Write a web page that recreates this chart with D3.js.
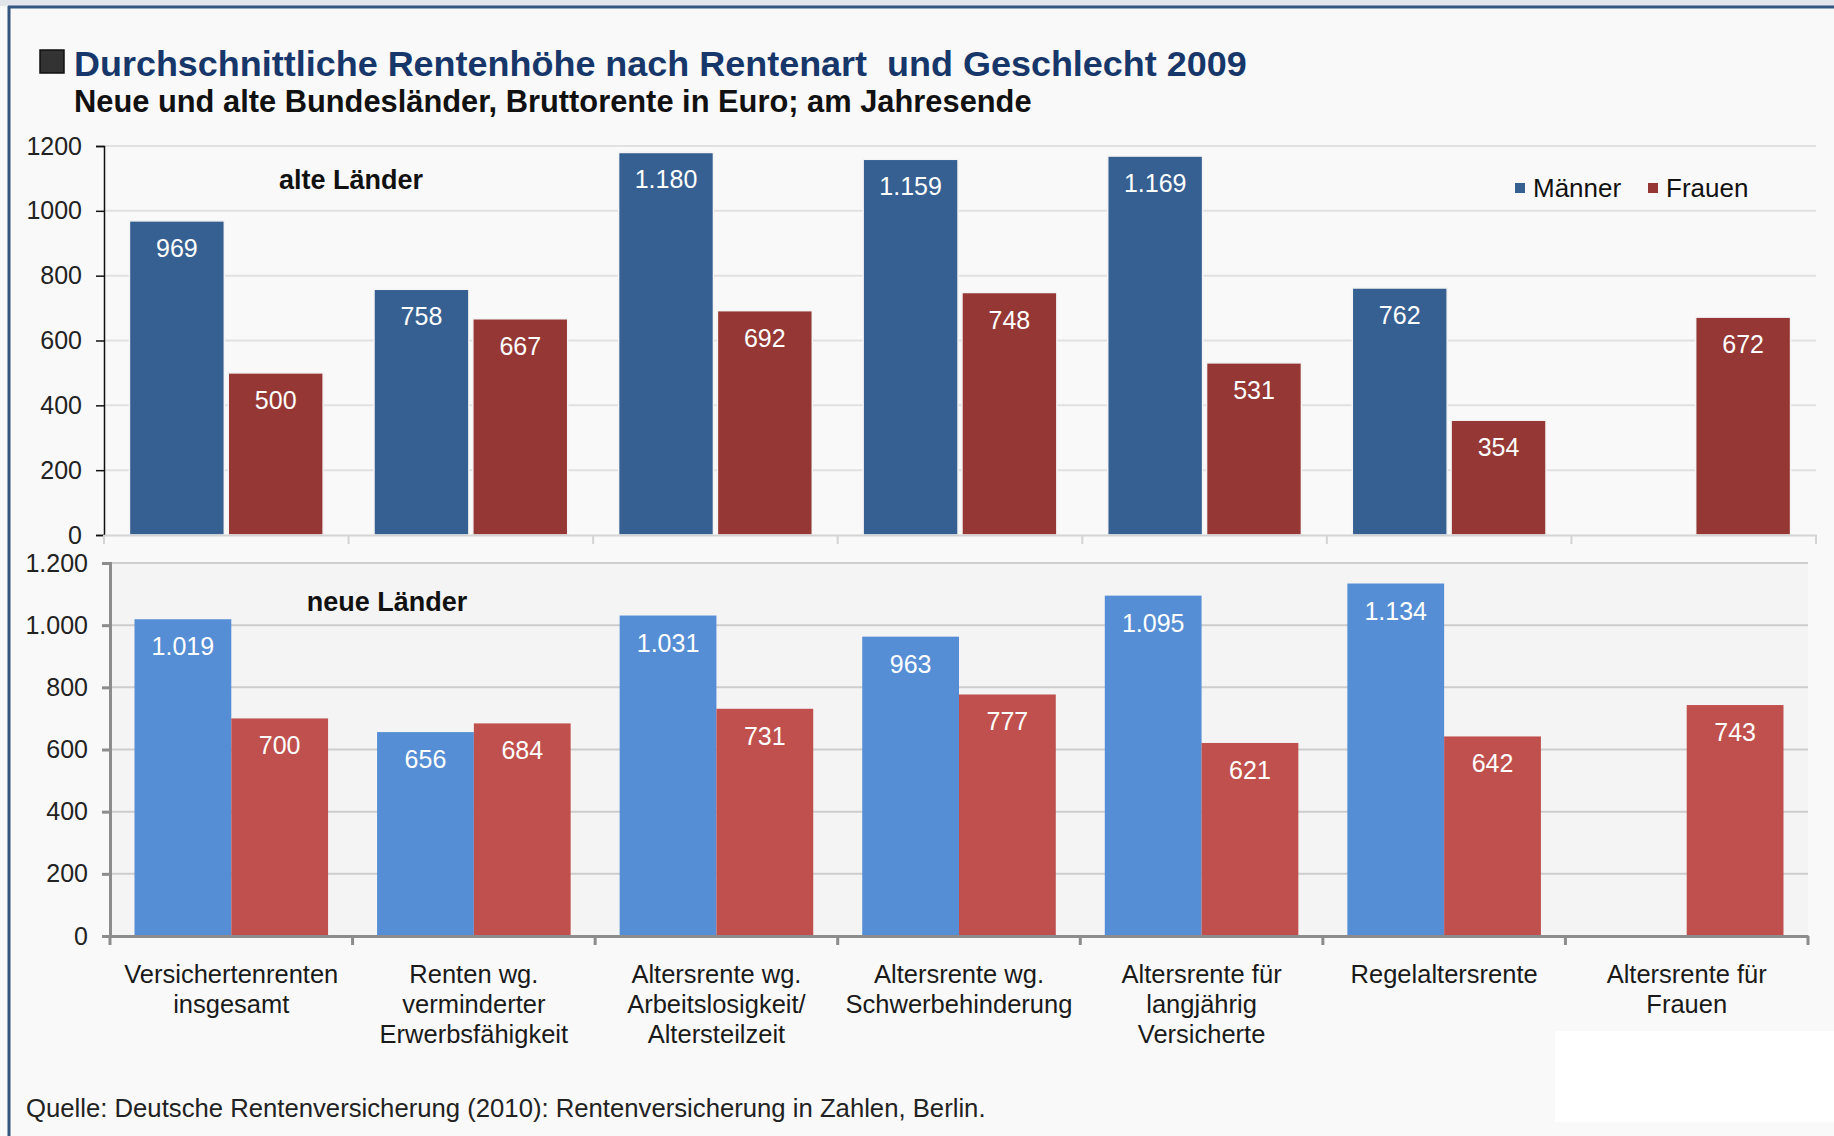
<!DOCTYPE html>
<html>
<head>
<meta charset="utf-8">
<script src="https://cdn.jsdelivr.net/npm/d3@7"></script>
<style>
body { margin: 0; background: #f9f9f9; }
svg { display: block; font-family: "Liberation Sans", Arial, sans-serif; }
</style>
</head>
<body>
<svg id="chart"></svg>
<script>
var categories = [
  ["Versichertenrenten", "insgesamt"],
  ["Renten wg.", "verminderter", "Erwerbsfähigkeit"],
  ["Altersrente wg.", "Arbeitslosigkeit/", "Altersteilzeit"],
  ["Altersrente wg.", "Schwerbehinderung"],
  ["Altersrente für", "langjährig", "Versicherte"],
  ["Regelaltersrente"],
  ["Altersrente für", "Frauen"]
];
var series = ["Männer", "Frauen"];
var alteMaenner = [969, 758, 1180, 1159, 1169, 762, null];
var alteFrauen = [500, 667, 692, 748, 531, 354, 672];
var neueMaenner = [1019, 656, 1031, 963, 1095, 1134, null];
var neueFrauen = [700, 684, 731, 777, 621, 642, 743];
var yTicks = [0, 200, 400, 600, 800, 1000, 1200];

var width = 1834, height = 1136;
var de = d3.formatLocale({decimal: ",", thousands: ".", grouping: [3], currency: ["", " €"]});
var fmt = de.format(",d");

var svg = d3.select("#chart").attr("width", width).attr("height", height);

// background + frame
svg.append("rect").attr("width", width).attr("height", height).attr("fill", "#f9f9f9");
svg.append("rect").attr("width", width).attr("height", 6).attr("fill", "#e2e5ea");
svg.append("line").attr("x1", 8).attr("x2", width).attr("y1", 7).attr("y2", 7)
  .attr("stroke", "#34557f").attr("stroke-width", 3);
svg.append("line").attr("x1", 9).attr("x2", 9).attr("y1", 6).attr("y2", height)
  .attr("stroke", "#34557f").attr("stroke-width", 3);

// fit a text element to a target width
function fit(sel, w) {
  var fs = parseFloat(sel.attr("font-size"));
  var len = sel.node().getComputedTextLength();
  sel.attr("font-size", fs * w / len);
}

// title
svg.append("rect").attr("x", 40).attr("y", 50).attr("width", 24).attr("height", 23)
  .attr("fill", "#333").attr("stroke", "#111").attr("stroke-width", 1.5);
svg.append("text").attr("x", 74).attr("y", 76).attr("font-size", 32).attr("font-weight", "bold")
  .attr("fill", "#17376b").text("Durchschnittliche Rentenhöhe nach Rentenart  und Geschlecht 2009")
  .attr("xml:space", "preserve").call(fit, 1173);
svg.append("text").attr("x", 74).attr("y", 112).attr("font-size", 26).attr("font-weight", "bold")
  .attr("fill", "#111").text("Neue und alte Bundesländer, Bruttorente in Euro; am Jahresende")
  .call(fit, 958);

function panel(opt) {
  var x = d3.scaleBand().domain(d3.range(categories.length)).range(opt.xr);
  var bw = x.bandwidth();
  var x1 = d3.scaleBand().domain(series).range([bw * opt.pad, bw * (1 - opt.pad)]).paddingInner(opt.inner);
  var y = d3.scaleLinear().domain([0, 1200]).range(opt.yr);
  var g = svg.append("g");

  if (opt.plotBg) {
    g.append("rect").attr("x", opt.xr[0]).attr("y", y(1200)).attr("width", opt.xr[1] - opt.xr[0])
      .attr("height", y(0) - y(1200)).attr("fill", opt.plotBg);
  }

  // gridlines
  g.selectAll(".grid").data(yTicks.filter(d => d > 0)).enter().append("line")
    .attr("x1", opt.xr[0]).attr("x2", opt.xr[1])
    .attr("y1", d => y(d)).attr("y2", d => y(d))
    .attr("stroke", opt.grid).attr("stroke-width", 2);

  var rows = [];
  categories.forEach(function(c, i) {
    rows.push({i: i, s: "Männer", v: opt.m[i]});
    rows.push({i: i, s: "Frauen", v: opt.f[i]});
  });
  rows = rows.filter(d => d.v != null);

  g.selectAll(".bar").data(rows).enter().append("rect")
    .attr("x", d => x(d.i) + x1(d.s))
    .attr("y", d => y(d.v))
    .attr("width", x1.bandwidth())
    .attr("height", d => y(0) - y(d.v))
    .attr("fill", d => d.s == "Männer" ? opt.cm : opt.cf)
    .attr("stroke", opt.barStroke || "none").attr("stroke-width", 1.5);

  g.selectAll(".val").data(rows).enter().append("text")
    .attr("x", d => x(d.i) + x1(d.s) + x1.bandwidth() / 2)
    .attr("y", d => y(d.v) + 36)
    .attr("text-anchor", "middle").attr("font-size", 25).attr("fill", "#fff")
    .text(d => fmt(d.v));

  // y axis
  var ya = g.append("g").attr("transform", "translate(" + opt.xr[0] + ",0)")
    .call(d3.axisLeft(y).tickValues(yTicks).tickSize(8).tickPadding(14).tickFormat(opt.tf));
  ya.select(".domain").attr("stroke", opt.axis).attr("stroke-width", opt.axisW);
  ya.selectAll(".tick line").attr("stroke", opt.axis).attr("stroke-width", opt.axisW);
  ya.selectAll(".tick text").attr("font-size", 25).attr("fill", "#222")
    .attr("font-family", "Liberation Sans, Arial, sans-serif");

  // x axis
  var xa = g.append("g").attr("transform", "translate(0," + y(0) + ")")
    .call(d3.axisBottom(x).tickValues([]).tickSizeOuter(0));
  xa.select(".domain").attr("stroke", opt.base).attr("stroke-width", opt.baseW);
  g.selectAll(".xt").data(d3.range(categories.length + 1)).enter().append("line")
    .attr("x1", d => opt.xr[0] + d * bw).attr("x2", d => opt.xr[0] + d * bw)
    .attr("y1", y(0)).attr("y2", y(0) + 9)
    .attr("stroke", opt.base).attr("stroke-width", opt.baseW);

  g.append("text").attr("x", opt.labelX).attr("y", opt.labelY).attr("text-anchor", "middle")
    .attr("font-size", 27).attr("font-weight", "bold").attr("fill", "#111").text(opt.label);

  return {x: x, bw: bw};
}

panel({
  xr: [104, 1816], yr: [535, 146], pad: 0.104, inner: 0.04,
  m: alteMaenner, f: alteFrauen, cm: "#376092", cf: "#953735",
  grid: "#e1e1e1", axis: "#111", axisW: 1.5, base: "#d4d4d4", baseW: 2,
  tf: d3.format("d"), barStroke: "#f4f4f4",
  label: "alte Länder", labelX: 351, labelY: 189
});

var bottom = panel({
  xr: [110, 1808], yr: [936, 563], pad: 0.101, inner: 0,
  m: neueMaenner, f: neueFrauen, cm: "#558ed5", cf: "#c0504d",
  grid: "#cdcdcd", axis: "#8c8c8c", axisW: 3, base: "#8c8c8c", baseW: 3,
  tf: fmt, plotBg: "#f4f4f4",
  label: "neue Länder", labelX: 387, labelY: 611
});

// legend
var legend = svg.append("g").attr("font-size", 26).attr("fill", "#111");
[["Männer", "#376092", 1515], ["Frauen", "#953735", 1648]].forEach(function(l) {
  legend.append("rect").attr("x", l[2]).attr("y", 183).attr("width", 10).attr("height", 10).attr("fill", l[1]);
  legend.append("text").attr("x", l[2] + 18).attr("y", 197).text(l[0]);
});

// category labels
var cl = svg.append("g").attr("font-size", 25.5).attr("fill", "#1a1a1a").attr("text-anchor", "middle");
categories.forEach(function(lines, i) {
  var t = cl.append("text").attr("x", bottom.x(i) + bottom.bw / 2).attr("y", 983);
  lines.forEach(function(s, j) {
    t.append("tspan").attr("x", bottom.x(i) + bottom.bw / 2).attr("dy", j ? 30 : 0).text(s);
  });
});

// source
svg.append("text").attr("x", 26).attr("y", 1117).attr("font-size", 25).attr("fill", "#222")
  .text("Quelle: Deutsche Rentenversicherung (2010): Rentenversicherung in Zahlen, Berlin.")
  .call(fit, 960);

// white patch bottom right
svg.append("rect").attr("x", 1555).attr("y", 1031).attr("width", width - 1555).attr("height", 91).attr("fill", "#fff");
</script>
</body>
</html>
